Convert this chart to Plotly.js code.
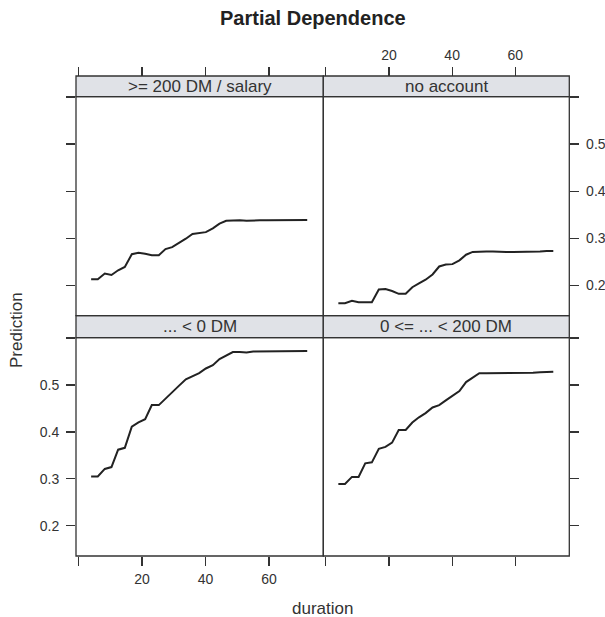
<!DOCTYPE html>
<html>
<head>
<meta charset="utf-8">
<script src="https://cdn.plot.ly/plotly-3.0.1.min.js"></script>
<style>
  html, body { margin: 0; padding: 0; background: #ffffff; }
  #chart { width: 605px; height: 617px; }
</style>
</head>
<body>
<div id="chart"></div>
<script>
// ---------------- data ----------------
const chartTitle = "Partial Dependence";
const xTitle = "duration";
const yTitle = "Prediction";

const panelNames = [">= 200 DM / salary", "no account", "... < 0 DM", "0 <= ... < 200 DM"];

const durationGrid = [4, 6.1, 8.3, 10.4, 12.5, 14.6, 16.8, 18.9, 21, 23.1, 25.3, 27.4, 29.5, 31.6, 33.8, 35.9, 38,
                      40.1, 42.3, 44.4, 46.5, 48.6, 50.8, 52.9, 55, 57.1, 59.3, 61.4, 63.5, 65.6, 67.8, 69.9, 72];

const predSalary = [0.213, 0.213, 0.225, 0.222, 0.232, 0.239, 0.266, 0.269, 0.267, 0.264, 0.264, 0.277, 0.281,
                    0.289, 0.299, 0.309, 0.311, 0.313, 0.321, 0.331, 0.337, 0.338, 0.338, 0.337, 0.338, 0.338,
                    0.338, 0.338, 0.338, 0.338, 0.338, 0.339, 0.339];

const predNoAccount = [0.162, 0.162, 0.167, 0.164, 0.164, 0.164, 0.191, 0.192, 0.188, 0.182, 0.182, 0.196, 0.204,
                       0.212, 0.223, 0.240, 0.244, 0.245, 0.253, 0.265, 0.271, 0.272, 0.272, 0.272, 0.271, 0.271,
                       0.271, 0.271, 0.271, 0.272, 0.272, 0.273, 0.273];

const predNegative = [0.305, 0.305, 0.321, 0.325, 0.362, 0.366, 0.411, 0.420, 0.427, 0.457, 0.457, 0.470, 0.484,
                      0.498, 0.512, 0.518, 0.525, 0.535, 0.542, 0.555, 0.562, 0.570, 0.570, 0.569, 0.571, 0.571,
                      0.571, 0.571, 0.571, 0.572, 0.572, 0.572, 0.572];

const predLow = [0.289, 0.289, 0.304, 0.304, 0.333, 0.335, 0.364, 0.368, 0.377, 0.404, 0.404, 0.420, 0.431,
                 0.440, 0.452, 0.457, 0.467, 0.477, 0.487, 0.506, 0.516, 0.525, 0.525, 0.525, 0.526, 0.526,
                 0.526, 0.526, 0.526, 0.526, 0.527, 0.528, 0.528];

const xTickVals = [0, 20, 40, 60];
const xTickText = ["", "20", "40", "60"];
const yTickVals = [0.2, 0.3, 0.4, 0.5, 0.6];
const yTickText = ["0.2", "0.3", "0.4", "0.5", ""];

// ---------------- layout geometry (pixels -> paper) ----------------
const W = 605, H = 617;
const px = v => v / W;
const py = v => 1 - v / H;

const colL = [76, 323.3], colR = [323.3, 569.3];
const rowTop = [96.7, 315.7], rowBot = [337.7, 556];
const stripTop = [76, 96.7], stripBot = [315.7, 337.7];

const font = "Liberation Sans, Arial, Helvetica, sans-serif";
const ink = "#333333";
const xRange = [-0.76, 77.06];
const yRange = [0.1355, 0.6006];

function xAxis(dom, extra) {
  return Object.assign({
    domain: [px(dom[0]), px(dom[1])], range: xRange,
    tickmode: "array", tickvals: xTickVals, ticktext: xTickText,
    ticks: "outside", ticklen: 9, tickwidth: 1.3, tickcolor: ink,
    showgrid: false, zeroline: false, showline: false, fixedrange: true,
    ticklabelstandoff: 1,
    tickfont: { family: font, size: 14, color: ink }
  }, extra);
}
function yAxis(dom, extra) {
  return Object.assign({
    domain: [py(dom[1]), py(dom[0])], range: yRange,
    tickmode: "array", tickvals: yTickVals, ticktext: yTickText,
    ticks: "outside", ticklen: 9, tickwidth: 1.3, tickcolor: ink,
    showgrid: false, zeroline: false, showline: false, fixedrange: true,
    ticklabelstandoff: 4,
    tickfont: { family: font, size: 14, color: ink }
  }, extra);
}

const lineStyle = { color: "#222222", width: 2 };
const traces = [
  { x: durationGrid, y: predNegative, xaxis: "x", yaxis: "y", mode: "lines", line: lineStyle, hoverinfo: "skip" },
  { x: durationGrid, y: predLow, xaxis: "x2", yaxis: "y2", mode: "lines", line: lineStyle, hoverinfo: "skip" },
  { x: durationGrid, y: predSalary, xaxis: "x3", yaxis: "y3", mode: "lines", line: lineStyle, hoverinfo: "skip" },
  { x: durationGrid, y: predNoAccount, xaxis: "x4", yaxis: "y4", mode: "lines", line: lineStyle, hoverinfo: "skip" }
];

function rect(xs, ys, fill) {
  return {
    type: "rect", xref: "paper", yref: "paper",
    x0: px(xs[0]), x1: px(xs[1]), y0: py(ys[1]), y1: py(ys[0]),
    line: { color: ink, width: 1.3 }, fillcolor: fill || "rgba(0,0,0,0)", layer: "above"
  };
}
const shapes = [
  rect(colL, stripTop, "#e0e2e7"), rect(colR, stripTop, "#e0e2e7"),
  rect(colL, stripBot, "#e0e2e7"), rect(colR, stripBot, "#e0e2e7"),
  rect(colL, rowTop), rect(colR, rowTop), rect(colL, rowBot), rect(colR, rowBot)
];

function stripLabel(text, xs, ys) {
  return {
    text: text, xref: "paper", yref: "paper", showarrow: false,
    x: px((xs[0] + xs[1]) / 2), y: py((ys[0] + ys[1]) / 2), xanchor: "center", yanchor: "middle",
    font: { family: font, size: 17, color: ink }
  };
}

const annotations = [
  stripLabel(panelNames[0], colL, stripTop),
  stripLabel(panelNames[1], colR, stripTop),
  stripLabel(panelNames[2], colL, stripBot),
  stripLabel(panelNames[3], colR, stripBot),
  { text: "<b>" + chartTitle + "</b>", xref: "paper", yref: "paper", showarrow: false,
    x: px(313), y: py(18), xanchor: "center", yanchor: "middle",
    font: { family: font, size: 20, color: "#222222" } },
  { text: xTitle, xref: "paper", yref: "paper", showarrow: false,
    x: px(322.7), y: py(608), xanchor: "center", yanchor: "middle",
    font: { family: font, size: 17, color: ink } },
  { text: yTitle, xref: "paper", yref: "paper", showarrow: false, textangle: -90,
    x: px(17), y: py(330), xanchor: "center", yanchor: "middle",
    font: { family: font, size: 17, color: ink } }
];

const layout = {
  width: W, height: H,
  margin: { l: 0, r: 0, t: 0, b: 0 },
  paper_bgcolor: "#ffffff", plot_bgcolor: "rgba(0,0,0,0)",
  showlegend: false,
  xaxis: xAxis(colL, { anchor: "y" }),
  xaxis2: xAxis(colR, { anchor: "y2", showticklabels: false }),
  xaxis3: xAxis(colL, { anchor: "free", position: py(stripTop[0]), side: "top", showticklabels: false }),
  xaxis4: xAxis(colR, { anchor: "free", position: py(stripTop[0]), side: "top" }),
  yaxis: yAxis(rowBot, { anchor: "x", side: "left" }),
  yaxis2: yAxis(rowBot, { anchor: "x2", side: "right", showticklabels: false }),
  yaxis3: yAxis(rowTop, { anchor: "x3", side: "left", showticklabels: false }),
  yaxis4: yAxis(rowTop, { anchor: "x4", side: "right", ticklabelstandoff: 4 }),
  shapes: shapes,
  annotations: annotations
};

Plotly.newPlot("chart", traces, layout, { displayModeBar: false, staticPlot: true });
</script>
</body>
</html>
